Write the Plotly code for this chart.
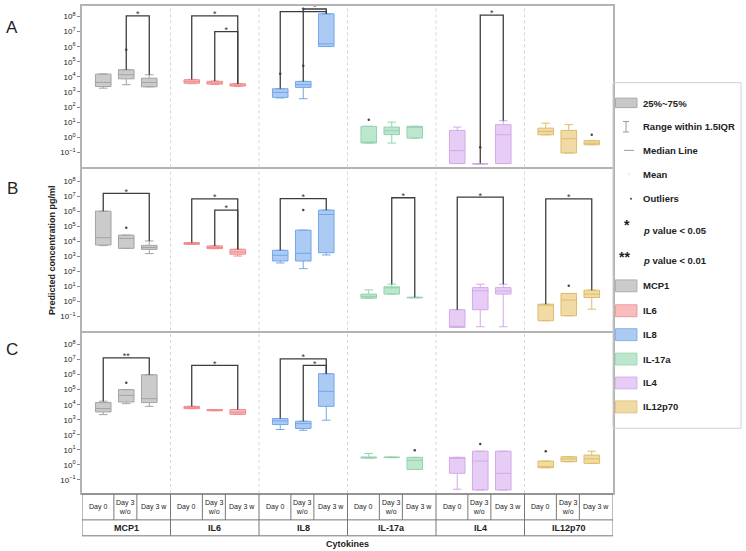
import plotly.graph_objects as go

# ---------------- data (log10 of concentration, pg/ml) ----------------
cytokines = ["MCP1", "IL6", "IL8", "IL-17a", "IL4", "IL12p70"]
conditions = ["Day 0", "Day 3<br>w/o", "Day 3 w"]
panels = ["A", "B", "C"]

# order per list: MCP1(d0,d3wo,d3w), IL6(...), IL8, IL-17a, IL4, IL12p70
A_q1  = [3.36, 3.87, 3.34,  3.58, 3.52, 3.39,  2.64, 3.30, 6.01,  -0.39, 0.17, -0.06,  -1.75, -1.78, -1.75,  0.16, -1.05, -0.50]
A_med = [3.63, 4.14, 3.63,  3.70, 3.60, 3.46,  2.97, 3.48, 6.19,  -0.39, 0.43, 0.72,   -0.89, -1.77, 0.16,   0.38, -0.10, -0.40]
A_q3  = [4.18, 4.47, 3.91,  3.81, 3.70, 3.54,  3.21, 3.70, 8.18,  0.72, 0.67, 0.72,    0.45, -1.75, 0.83,    0.60, 0.45, -0.23]
A_lo  = [3.25, 3.48, 3.34,  3.55, 3.50, 3.37,  2.60, 2.55, 6.01,  -0.39, -0.39, -0.06, -1.75, -1.78, -1.75,  0.16, -1.05, -0.50]
A_hi  = [4.20, 4.47, 4.14,  3.83, 3.72, 3.55,  3.21, 3.70, 8.18,  0.72, 1.00, 0.72,    0.67, -1.75, 1.09,    0.93, 0.83, -0.23]

B_q1  = [3.76, 3.54, 3.47,  3.81, 3.52, 3.15,  2.70, 2.70, 3.25,  0.23, 0.50, 0.25,  -1.71, -0.54, 0.50,  -1.27, -0.94, 0.27]
B_med = [4.25, 4.20, 3.60,  3.86, 3.60, 3.30,  3.08, 3.21, 5.79,  0.35, 0.94, 0.27,  -1.71, 0.72, 0.70,   -0.17, 0.10, 0.50]
B_q3  = [6.01, 4.42, 3.74,  3.92, 3.70, 3.48,  3.41, 4.75, 6.08,  0.50, 0.98, 0.29,  -0.54, 0.93, 0.93,   -0.17, 0.54, 0.76]
B_lo  = [3.72, 3.54, 3.19,  3.81, 3.52, 3.03,  2.57, 2.19, 3.10,  0.23, 0.50, 0.25,  -1.71, -1.67, -1.67, -1.27, -0.94, -0.50]
B_hi  = [6.01, 4.42, 4.03,  3.92, 3.70, 3.48,  3.41, 4.75, 6.08,  0.78, 1.16, 0.29,  -0.54, 1.16, 1.16,   -0.17, 0.54, 0.76]

C_q1  = [3.52, 4.18, 4.14,  3.74, 3.60, 3.36,  2.68, 2.42, 3.89,  0.45, 0.48, -0.30,  -0.56, -1.67, -1.67,  -0.19, 0.21, 0.10]
C_med = [3.74, 4.62, 4.40,  3.80, 3.64, 3.50,  2.92, 2.74, 4.89,  0.50, 0.50, 0.30,   0.45, 0.25, -0.56,    -0.19, 0.40, 0.40]
C_q3  = [4.14, 5.00, 5.99,  3.89, 3.68, 3.68,  3.08, 2.90, 6.06,  0.52, 0.52, 0.50,   0.50, 0.91, 0.91,     0.25, 0.54, 0.65]
C_lo  = [3.34, 4.07, 3.89,  3.74, 3.60, 3.36,  2.35, 2.30, 2.97,  0.45, 0.48, -0.30,  -1.62, -1.67, -1.67,  -0.19, 0.21, 0.10]
C_hi  = [4.23, 5.00, 5.99,  3.89, 3.68, 3.68,  3.08, 2.90, 6.06,  0.76, 0.52, 0.50,   0.50, 0.91, 0.91,     0.25, 0.54, 0.91]

# outliers: (cytokine index, condition index, log10 value)
A_out = [(0, 1, 5.80), (2, 0, 4.20), (2, 1, 4.73), (3, 0, 1.16), (4, 1, -0.66), (5, 2, 0.16)]
B_out = [(0, 1, 4.91), (2, 1, 6.08), (5, 1, 1.05)]
C_out = [(0, 1, 5.46), (3, 2, 0.98), (4, 1, 1.38), (5, 0, 0.91)]

# significance brackets: (cytokine index, from cond, to cond, log10 height, label)
A_sig = [(0, 1, 2, 8.05, "*"), (1, 0, 2, 8.05, "*"), (1, 1, 2, 7.00, "*"),
         (2, 0, 2, 8.33, "*"), (2, 1, 2, 8.50, "*"), (4, 1, 2, 8.10, "*")]
B_sig = [(0, 0, 2, 7.19, "*"), (1, 0, 2, 6.83, "*"), (1, 1, 2, 6.08, "*"),
         (2, 0, 2, 6.85, "*"), (3, 1, 2, 6.90, "*"), (4, 0, 2, 6.94, "*"),
         (5, 0, 2, 6.83, "*")]
C_sig = [(0, 0, 2, 7.12, "**"), (1, 0, 2, 6.61, "*"), (2, 0, 2, 7.05, "*"),
         (2, 1, 2, 6.61, "*")]

y_ticks_exp = [-1, 0, 1, 2, 3, 4, 5, 6, 7, 8]
legend_items = ["25%~75%", "Range within 1.5IQR", "Median Line", "Mean", "Outliers"]

# ---------------- styling ----------------
FONT = "Liberation Sans, Arial, sans-serif"
fills = ["#cbcbcb", "#f9bcbc", "#abcbf5", "#bde6ce", "#e7ccf6", "#f1daa3"]
lines = ["#a3a3a3", "#ef8c8c", "#74a6e6", "#93d3ae", "#d2a9ea", "#ddbd6c"]
offs = [0.24, 0.5, 0.76]
BOXW = 0.176

W, H = 746, 551
PL, PR, PT, PB = 82, 613, 4, 493


def px_x(px):
    return (px - PL) / (PR - PL)


def px_y(py):
    return (PB - py) / (PB - PT)


panel_data = {
    "A": (A_q1, A_med, A_q3, A_lo, A_hi, A_out, A_sig),
    "B": (B_q1, B_med, B_q3, B_lo, B_hi, B_out, B_sig),
    "C": (C_q1, C_med, C_q3, C_lo, C_hi, C_out, C_sig),
}
domains = {"A": [px_y(166), 1.0], "B": [px_y(330), px_y(168)], "C": [0.0, px_y(332)]}
yranges = {"A": [-2.0, 8.70], "B": [-1.93, 8.79], "C": [-1.87, 8.79]}

fig = go.Figure()

for pi, p in enumerate(panels):
    q1, med, q3, lo, hi, outs, sigs = panel_data[p]
    xa = "x" if pi == 0 else f"x{pi+1}"
    ya = "y" if pi == 0 else f"y{pi+1}"
    for ci in range(6):
        sl = slice(ci * 3, ci * 3 + 3)
        fig.add_trace(go.Box(
            x=[ci + o for o in offs],
            q1=[10 ** v for v in q1[sl]], median=[10 ** v for v in med[sl]],
            q3=[10 ** v for v in q3[sl]], lowerfence=[10 ** v for v in lo[sl]],
            upperfence=[10 ** v for v in hi[sl]],
            width=BOXW, whiskerwidth=0.55, fillcolor=fills[ci],
            line=dict(color=lines[ci], width=1), boxpoints=False,
            xaxis=xa, yaxis=ya, showlegend=False, hoverinfo="skip"))
    # outliers
    fig.add_trace(go.Scatter(
        x=[c + offs[k] for c, k, v in outs], y=[10 ** v for c, k, v in outs],
        mode="markers", marker=dict(size=2.5, color="#444"),
        xaxis=xa, yaxis=ya, showlegend=False, hoverinfo="skip"))
    # brackets
    for c, k1, k2, h, lab in sigs:
        x1, x2 = c + offs[k1], c + offs[k2]
        fig.add_trace(go.Scatter(
            x=[x1, x1, x2, x2],
            y=[10 ** hi[c * 3 + k1], 10 ** h, 10 ** h, 10 ** hi[c * 3 + k2]],
            mode="lines", line=dict(color="#3c3c3c", width=1.3),
            xaxis=xa, yaxis=ya, showlegend=False, hoverinfo="skip"))
        fig.add_trace(go.Scatter(
            x=[(x1 + x2) / 2], y=[10 ** (h + 0.06)], mode="text", text=[lab],
            textposition="middle center", textfont=dict(size=9, color="#333", family=FONT),
            xaxis=xa, yaxis=ya, showlegend=False, hoverinfo="skip", cliponaxis=False))

layout = dict(
    width=W, height=H, margin=dict(l=PL, r=W - PR, t=PT, b=H - PB),
    paper_bgcolor="white", plot_bgcolor="white", boxmode="overlay",
    font=dict(family=FONT, size=8, color="#222"), showlegend=False,
)
yaxis_common = dict(
    type="log", tickvals=[10 ** e for e in y_ticks_exp],
    ticktext=[f"10<sup>{str(e).replace('-', '−')}</sup>" for e in y_ticks_exp],
    ticks="outside", ticklen=3, tickcolor="#888", tickfont=dict(size=8, color="#222"),
    showgrid=False, zeroline=False, showline=True, linecolor="#b3b3b3", linewidth=1.5,
    mirror=True,
)
xaxis_common = dict(range=[0, 6], showticklabels=False, ticks="", showgrid=False,
                    zeroline=False, showline=True, linecolor="#b3b3b3", linewidth=1.5,
                    mirror=True)
for pi, p in enumerate(panels):
    sfx = "" if pi == 0 else str(pi + 1)
    layout["xaxis" + sfx] = dict(xaxis_common, anchor="y" + sfx, domain=[0, 1])
    layout["yaxis" + sfx] = dict(yaxis_common, anchor="x" + sfx, domain=domains[p],
                                range=yranges[p])
fig.update_layout(**layout)

shapes = []
annos = []
# dotted group separators
for pi in range(3):
    sfx = "" if pi == 0 else str(pi + 1)
    for g in range(1, 6):
        shapes.append(dict(type="line", xref="x" + sfx, yref=f"y{sfx} domain", x0=g, x1=g,
                           y0=0, y1=1, line=dict(color="#d6d6d6", width=1, dash="dot")))
# panel letters
for p, py in zip(panels, [26, 187, 349]):
    annos.append(dict(text=p, x=px_x(12), y=px_y(py), xref="paper", yref="paper",
                      showarrow=False, font=dict(size=17, color="#222"), xanchor="center",
                      yanchor="middle"))
# y-axis title
annos.append(dict(text="<b>Predicted concentration pg/ml</b>", x=px_x(52), y=px_y(249),
                  xref="paper", yref="paper", showarrow=False, textangle=-90,
                  font=dict(size=9, color="#222"), xanchor="center", yanchor="middle"))

# table under panel C
tl = dict(color="#777", width=1)
for py in [494, 520, 536]:
    shapes.append(dict(type="line", xref="x3", yref="paper", x0=0, x1=6,
                       y0=px_y(py), y1=px_y(py), line=tl))
for g in range(7):
    shapes.append(dict(type="line", xref="x3", yref="paper", x0=g, x1=g,
                       y0=px_y(494), y1=px_y(536), line=tl))
cell_edges = [0.36, 0.62]
cell_centers = [0.18, 0.49, 0.81]
for g in range(6):
    for e in cell_edges:
        shapes.append(dict(type="line", xref="x3", yref="paper", x0=g + e, x1=g + e,
                           y0=px_y(494), y1=px_y(520), line=tl))
    for k, cond in enumerate(conditions):
        annos.append(dict(text=cond, x=g + cell_centers[k], y=px_y(507.5), xref="x3",
                          yref="paper", showarrow=False, font=dict(size=7, color="#222"),
                          xanchor="center", yanchor="middle"))
    annos.append(dict(text=f"<b>{cytokines[g]}</b>", x=g + 0.5, y=px_y(528.5), xref="x3",
                      yref="paper", showarrow=False, font=dict(size=9, color="#222"),
                      xanchor="center", yanchor="middle"))
annos.append(dict(text="<b>Cytokines</b>", x=3, y=px_y(544.5), xref="x3", yref="paper",
                  showarrow=False, font=dict(size=9, color="#222"), xanchor="center",
                  yanchor="middle"))

# custom legend box
shapes.append(dict(type="rect", xref="paper", yref="paper", x0=px_x(613), x1=px_x(741),
                   y0=px_y(428), y1=px_y(81), line=dict(color="#cfcfcf", width=1),
                   fillcolor="rgba(0,0,0,0)"))
TX = px_x(641)


def leg_text(txt, py, size=9.5):
    annos.append(dict(text=f"<b>{txt}</b>", x=TX, y=px_y(py), xref="paper", yref="paper",
                      showarrow=False, xanchor="left", yanchor="middle",
                      font=dict(size=size, color="#222")))


# 25%~75%
shapes.append(dict(type="rect", xref="paper", yref="paper", x0=px_x(615.5), x1=px_x(637),
                   y0=px_y(106), y1=px_y(96.5), fillcolor="#c8c8c8",
                   line=dict(color="#aaaaaa", width=1)))
leg_text(legend_items[0], 101.5)
# whisker icon
for seg in [(626, 120, 626, 130.5), (623, 120, 629, 120), (623, 130.5, 629, 130.5)]:
    shapes.append(dict(type="line", xref="paper", yref="paper", x0=px_x(seg[0]),
                       y0=px_y(seg[1]), x1=px_x(seg[2]), y1=px_y(seg[3]),
                       line=dict(color="#999", width=1)))
leg_text(legend_items[1], 125)
# median line
shapes.append(dict(type="line", xref="paper", yref="paper", x0=px_x(624), x1=px_x(634),
                   y0=px_y(149), y1=px_y(149), line=dict(color="#aaa", width=1.2)))
leg_text(legend_items[2], 149)
# mean
shapes.append(dict(type="circle", xref="paper", yref="paper", x0=px_x(628), x1=px_x(630),
                   y0=px_y(174), y1=px_y(172), fillcolor="#e4e4e4", line=dict(width=0)))
leg_text(legend_items[3], 173)
# outliers
shapes.append(dict(type="circle", xref="paper", yref="paper", x0=px_x(630), x1=px_x(632),
                   y0=px_y(198.5), y1=px_y(196.5), fillcolor="#444", line=dict(width=0)))
leg_text(legend_items[4], 197.5)
# significance
annos.append(dict(text="<b>*</b>", x=px_x(627), y=px_y(224), xref="paper", yref="paper",
                  showarrow=False, xanchor="center", yanchor="middle",
                  font=dict(size=14, color="#222")))
leg_text("<i>p</i> value &lt; 0.05", 229)
annos.append(dict(text="<b>**</b>", x=px_x(624), y=px_y(256), xref="paper", yref="paper",
                  showarrow=False, xanchor="center", yanchor="middle",
                  font=dict(size=14, color="#222")))
leg_text("<i>p</i> value &lt; 0.01", 259.5)
# cytokine swatches
for ci, py in enumerate([285, 310, 334, 358.5, 382.5, 406.5]):
    shapes.append(dict(type="rect", xref="paper", yref="paper", x0=px_x(615.5),
                       x1=px_x(637), y0=px_y(py + 6), y1=px_y(py - 6),
                       fillcolor=fills[ci], line=dict(color=lines[ci], width=0.8)))
    leg_text(cytokines[ci], py)

fig.update_layout(shapes=shapes, annotations=annos)
fig.write_html("out.html", config={"displayModeBar": False},
               post_script="document.body.style.margin='0';document.body.style.overflow='hidden';")
